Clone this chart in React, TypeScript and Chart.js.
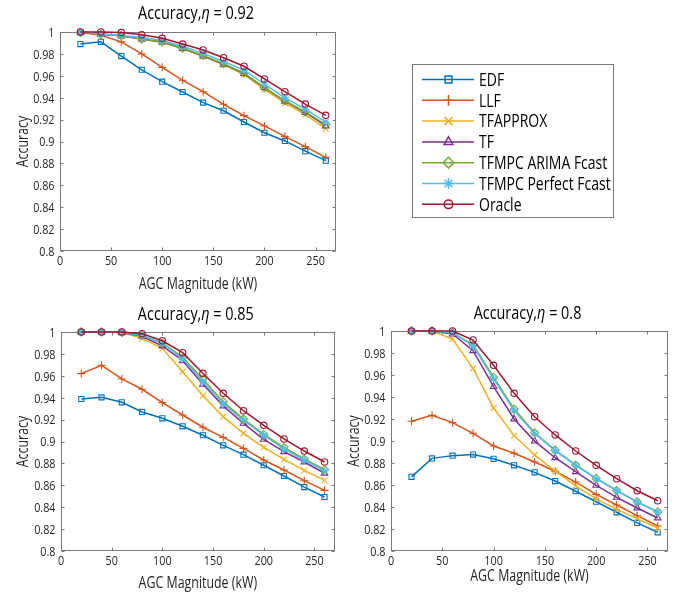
import React, { useEffect, useRef } from 'react';
import { Chart, registerables } from 'chart.js';
import { drawPoint } from 'chart.js/helpers';

Chart.register(...registerables);

const FONT = "'Open Sans', 'Liberation Sans', sans-serif";
const HS = 0.8; // horizontal condensing of text
const CAP = 0.714; // cap height ratio of Open Sans

const agcMagnitude = [20, 40, 60, 80, 100, 120, 140, 160, 180, 200, 220, 240, 260];
const xTicks = [0, 50, 100, 150, 200, 250];
const yTicks = [0.8, 0.82, 0.84, 0.86, 0.88, 0.9, 0.92, 0.94, 0.96, 0.98, 1];

const seriesNames = ['EDF', 'LLF', 'TFAPPROX', 'TF', 'TFMPC ARIMA Fcast', 'TFMPC Perfect Fcast', 'Oracle'];
const seriesColors = ['#0072BD', '#D95319', '#EDB120', '#7E2F8E', '#77AC30', '#4DBEEE', '#A2142F'];
const seriesMarkers = ['rect', 'cross', 'crossRot', 'triangle', 'rectRot', 'star', 'circle'];
const markerRadius = [3.6, 4, 4.2, 3.8, 4, 4, 3.2];

// eta = 0.92
const eta092EDF = [0.989, 0.991, 0.978, 0.9655, 0.9546, 0.9452, 0.9355, 0.9281, 0.9178, 0.908, 0.9005, 0.8912, 0.8825];
const eta092LLF = [0.9995, 0.997, 0.991, 0.98, 0.9677, 0.9559, 0.9455, 0.934, 0.9236, 0.9142, 0.9047, 0.8953, 0.8855];
const eta092TFAPPROX = [0.9995, 0.998, 0.9965, 0.9935, 0.9905, 0.985, 0.978, 0.9703, 0.9612, 0.9475, 0.935, 0.9245, 0.9118];
const eta092TF = [0.9995, 0.998, 0.9965, 0.9935, 0.9908, 0.985, 0.978, 0.9706, 0.962, 0.9492, 0.9368, 0.9265, 0.9142];
const eta092ARIMA = [0.9995, 0.998, 0.9965, 0.9935, 0.991, 0.9852, 0.9785, 0.971, 0.9625, 0.9492, 0.9372, 0.927, 0.9155];
const eta092Perfect = [1.0, 0.9985, 0.997, 0.995, 0.9922, 0.987, 0.9805, 0.973, 0.9652, 0.9525, 0.9398, 0.9295, 0.918];
const eta092Oracle = [1.0, 1.0, 0.9995, 0.9975, 0.9942, 0.989, 0.9836, 0.9765, 0.9687, 0.9571, 0.9455, 0.9342, 0.9239];

// eta = 0.85
const eta085EDF = [0.9388, 0.9403, 0.9358, 0.927, 0.9212, 0.9139, 0.9057, 0.8965, 0.888, 0.8783, 0.8685, 0.8584, 0.8493];
const eta085LLF = [0.962, 0.9696, 0.9571, 0.9477, 0.9355, 0.9242, 0.913, 0.9038, 0.8937, 0.8831, 0.874, 0.8642, 0.8554];
const eta085TFAPPROX = [1, 1, 0.9995, 0.9942, 0.9851, 0.9638, 0.9418, 0.9227, 0.9075, 0.8947, 0.8837, 0.8736, 0.8645];
const eta085TF = [1, 1, 0.9995, 0.996, 0.9872, 0.9738, 0.9522, 0.9324, 0.9166, 0.902, 0.8907, 0.8813, 0.871];
const eta085ARIMA = [1, 1, 0.9995, 0.997, 0.99, 0.9768, 0.9568, 0.9364, 0.9205, 0.9067, 0.8945, 0.884, 0.8745];
const eta085Perfect = [1, 1, 0.9995, 0.997, 0.9897, 0.9756, 0.9546, 0.9342, 0.9196, 0.9057, 0.8932, 0.8831, 0.8734];
const eta085Oracle = [1, 1, 1, 0.9985, 0.992, 0.9811, 0.9623, 0.944, 0.9281, 0.9148, 0.9023, 0.8913, 0.8813];

// eta = 0.8
const eta080EDF = [0.8674, 0.8842, 0.8867, 0.8877, 0.8838, 0.8779, 0.8715, 0.8636, 0.8543, 0.8448, 0.8352, 0.8255, 0.817];
const eta080LLF = [0.9179, 0.9233, 0.9167, 0.907, 0.8955, 0.8888, 0.8809, 0.8725, 0.8627, 0.8515, 0.8418, 0.8321, 0.8227];
const eta080TFAPPROX = [1, 1, 0.9927, 0.9661, 0.93, 0.9049, 0.8873, 0.8727, 0.8591, 0.8473, 0.8379, 0.8294, 0.8209];
const eta080TF = [1, 1, 0.9973, 0.9821, 0.9494, 0.92, 0.8999, 0.8848, 0.8721, 0.8597, 0.8488, 0.8391, 0.83];
const eta080ARIMA = [1, 1, 0.9985, 0.9875, 0.958, 0.929, 0.9075, 0.8917, 0.8782, 0.866, 0.855, 0.8447, 0.8357];
const eta080Perfect = [1, 1, 0.9985, 0.9864, 0.9566, 0.9276, 0.9068, 0.8912, 0.8779, 0.8657, 0.8548, 0.8445, 0.8355];
const eta080Oracle = [1, 1, 1, 0.9918, 0.9688, 0.9433, 0.9221, 0.9055, 0.8909, 0.8779, 0.8657, 0.8548, 0.8457];

const panels = [
  {
    eta: '0.92',
    series: [eta092EDF, eta092LLF, eta092TFAPPROX, eta092TF, eta092ARIMA, eta092Perfect, eta092Oracle],
    left: 0, top: 0, width: 678, height: 300,
    padTop: 32, padRight: 342, yWidth: 60, xHeight: 49,
    xTitleOff: 32, yTitleX: 22, titleY: 13, legend: true,
  },
  {
    eta: '0.85',
    series: [eta085EDF, eta085LLF, eta085TFAPPROX, eta085TF, eta085ARIMA, eta085Perfect, eta085Oracle],
    left: 0, top: 300, width: 340, height: 297,
    padTop: 32, padRight: 3, yWidth: 61, xHeight: 46,
    xTitleOff: 31, yTitleX: 22, titleY: 14, legend: false,
  },
  {
    eta: '0.8',
    series: [eta080EDF, eta080LLF, eta080TFAPPROX, eta080TF, eta080ARIMA, eta080Perfect, eta080Oracle],
    left: 340, top: 300, width: 338, height: 297,
    padTop: 31, padRight: 10, yWidth: 51, xHeight: 46,
    xTitleOff: 24, yTitleX: 13, titleY: 13, legend: false,
  },
];

const AXIS_COLOR = '#262626';
const BOX_COLOR = '#7a7a7a';
const TICK_SIZE = 13.5;
const LABEL_SIZE = 15.5;
const TITLE_SIZE = 18;
const LEGEND_SIZE = 17.5;

// draws text whose caps are vertically centred on cy, condensed horizontally
function drawText(ctx: any, s: string, x: number, cy: number, size: number, align: string, opts: any = {}) {
  ctx.save();
  ctx.translate(x, cy);
  if (opts.rotate) ctx.rotate(-Math.PI / 2);
  ctx.scale(HS, 1);
  ctx.font = `${opts.italic ? 'italic ' : ''}${size}px ${FONT}`;
  ctx.fillStyle = opts.color || AXIS_COLOR;
  ctx.textAlign = align;
  ctx.textBaseline = 'alphabetic';
  ctx.fillText(s, 0, (size * CAP) / 2);
  ctx.restore();
}

function textWidth(ctx: any, s: string, size: number, italic = false) {
  ctx.save();
  ctx.font = `${italic ? 'italic ' : ''}${size}px ${FONT}`;
  const w = ctx.measureText(s).width * HS;
  ctx.restore();
  return w;
}

const fmtY = (v: number) => String(Number(v.toFixed(2)));

const boxPlugin = {
  id: 'matlabBox',
  beforeDatasetsDraw(chart: any) {
    const { ctx, chartArea, scales } = chart;
    const l = Math.round(chartArea.left) + 0.5;
    const r = Math.round(chartArea.right) - 0.5;
    const t = Math.round(chartArea.top) + 0.5;
    const b = Math.round(chartArea.bottom) - 0.5;
    ctx.save();
    ctx.strokeStyle = BOX_COLOR;
    ctx.lineWidth = 1;
    ctx.strokeRect(l, t, r - l, b - t);
    ctx.beginPath();
    const tl = 3;
    for (const v of xTicks) {
      const px = Math.round(scales.x.getPixelForValue(v)) + 0.5;
      ctx.moveTo(px, b); ctx.lineTo(px, b - tl);
      ctx.moveTo(px, t); ctx.lineTo(px, t + tl);
    }
    for (const v of yTicks) {
      const py = Math.round(scales.y.getPixelForValue(v)) + 0.5;
      ctx.moveTo(l, py); ctx.lineTo(l + tl, py);
      ctx.moveTo(r, py); ctx.lineTo(r - tl, py);
    }
    ctx.stroke();
    ctx.restore();
  },
};

const textPlugin = {
  id: 'axText',
  afterDraw(chart: any, _args: any, opts: any) {
    const { ctx, chartArea, scales } = chart;
    const cx = (chartArea.left + chartArea.right) / 2;
    const cy = (chartArea.top + chartArea.bottom) / 2;
    // tick labels
    for (const v of xTicks) {
      drawText(ctx, String(v), scales.x.getPixelForValue(v), chartArea.bottom + 9.5, TICK_SIZE, 'center');
    }
    for (const v of yTicks) {
      drawText(ctx, fmtY(v), chartArea.left - 5.5, scales.y.getPixelForValue(v), TICK_SIZE, 'right');
    }
    // axis titles
    drawText(ctx, 'AGC Magnitude (kW)', cx, chartArea.bottom + opts.xTitleOff, LABEL_SIZE, 'center');
    drawText(ctx, 'Accuracy', opts.yTitleX, cy, LABEL_SIZE, 'center', { rotate: true });
    // panel title: Accuracy, eta = value
    const parts = [
      { t: 'Accuracy,', it: false },
      { t: 'η', it: true },
      { t: ' = ' + opts.eta, it: false },
    ];
    let total = 0;
    for (const p of parts) total += textWidth(ctx, p.t, TITLE_SIZE, p.it);
    let x = cx - total / 2 - 2;
    for (const p of parts) {
      drawText(ctx, p.t, x, opts.titleY, TITLE_SIZE, 'left', { italic: p.it, color: '#000' });
      x += textWidth(ctx, p.t, TITLE_SIZE, p.it);
    }
  },
};

const legendPlugin = {
  id: 'matlabLegend',
  afterDraw(chart: any, _args: any, opts: any) {
    if (!opts || !opts.show) return;
    const { ctx } = chart;
    const bx = 412.5, by = 64.5, bw = 201, bh = 153;
    ctx.save();
    ctx.fillStyle = '#fff';
    ctx.fillRect(bx, by, bw, bh);
    ctx.strokeStyle = BOX_COLOR;
    ctx.lineWidth = 1;
    ctx.strokeRect(bx, by, bw, bh);
    seriesNames.forEach((name, i) => {
      const y = 79.5 + i * 20.8;
      ctx.strokeStyle = seriesColors[i];
      ctx.lineWidth = 1.5;
      ctx.beginPath();
      ctx.moveTo(422, y);
      ctx.lineTo(474, y);
      ctx.stroke();
      ctx.fillStyle = 'rgba(0,0,0,0)';
      drawPoint(ctx, { pointStyle: seriesMarkers[i], rotation: 0, radius: markerRadius[i] * 1.35, borderWidth: 1.3 } as any, 448.5, y);
      drawText(ctx, name, 479, y, LEGEND_SIZE, 'left', { color: '#000' });
    });
    ctx.restore();
  },
};

function Panel({ cfg }: { cfg: any }) {
  const ref = useRef<HTMLCanvasElement | null>(null);
  useEffect(() => {
    if (!ref.current) return;
    const datasets = cfg.series.map((vals: number[], i: number) => ({
      label: seriesNames[i],
      data: agcMagnitude.map((x, j) => ({ x, y: vals[j] })),
      borderColor: seriesColors[i],
      backgroundColor: 'rgba(0,0,0,0)',
      borderWidth: 1.5,
      pointStyle: seriesMarkers[i],
      pointRadius: markerRadius[i],
      pointBorderWidth: 1.1,
      pointBorderColor: seriesColors[i],
      pointBackgroundColor: 'rgba(0,0,0,0)',
      tension: 0,
      fill: false,
      clip: false,
      order: seriesNames.length - i,
    }));
    const chart = new Chart(ref.current, {
      type: 'line',
      data: { datasets },
      plugins: [boxPlugin, textPlugin, legendPlugin],
      options: {
        animation: false,
        responsive: false,
        maintainAspectRatio: false,
        devicePixelRatio: 1,
        layout: { padding: { top: cfg.padTop, right: cfg.padRight, left: 0, bottom: 0 } },
        plugins: {
          legend: { display: false },
          tooltip: { enabled: false },
          title: { display: false },
          axText: { eta: cfg.eta, titleY: cfg.titleY, xTitleOff: cfg.xTitleOff, yTitleX: cfg.yTitleX },
          matlabLegend: { show: cfg.legend },
        } as any,
        scales: {
          x: {
            type: 'linear',
            min: 0,
            max: 270,
            afterBuildTicks: (s: any) => { s.ticks = xTicks.map((v) => ({ value: v })); },
            afterFit: (s: any) => { s.height = cfg.xHeight; },
            grid: { display: false, drawTicks: false },
            border: { display: false },
            ticks: { display: false },
            title: { display: false },
          },
          y: {
            type: 'linear',
            min: 0.8,
            max: 1,
            afterBuildTicks: (s: any) => { s.ticks = yTicks.map((v) => ({ value: v })); },
            afterFit: (s: any) => { s.width = cfg.yWidth; },
            grid: { display: false, drawTicks: false },
            border: { display: false },
            ticks: { display: false },
            title: { display: false },
          },
        },
      } as any,
    });
    return () => chart.destroy();
  }, [cfg]);
  return (
    <canvas
      ref={ref}
      width={cfg.width}
      height={cfg.height}
      style={{ position: 'absolute', left: cfg.left, top: cfg.top, width: cfg.width, height: cfg.height }}
    />
  );
}

export default function App() {
  return (
    <div style={{ position: 'absolute', left: 0, top: 0, width: 678, height: 597, background: '#fff', overflow: 'hidden' }}>
      {panels.map((p, i) => (
        <Panel key={i} cfg={p} />
      ))}
    </div>
  );
}
